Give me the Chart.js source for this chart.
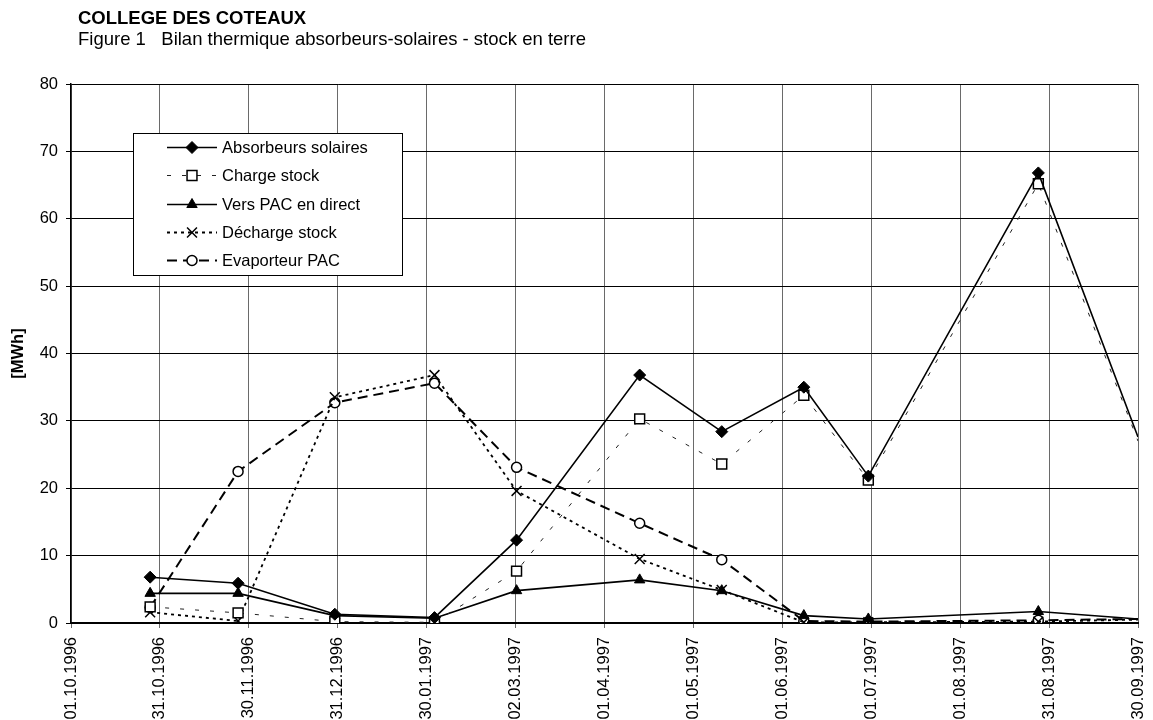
<!DOCTYPE html>
<html>
<head>
<meta charset="utf-8">
<title>Bilan thermique absorbeurs-solaires - stock en terre</title>
<script src="https://cdn.jsdelivr.net/npm/chart.js@4/dist/chart.umd.min.js"></script>
<style>
  html, body { margin: 0; padding: 0; background: #fff; overflow: hidden; }
  canvas { display: block; }
</style>
</head>
<body>
<canvas id="chart" width="1153" height="720"></canvas>
<script>
const FONT = "'Liberation Sans', Arial, Helvetica, sans-serif";

// Measurement dates (dd.mm.yyyy)
const pointDates = ['28.10.1996', '27.11.1996', '30.12.1996', '02.02.1997', '02.03.1997', '13.04.1997',
                    '11.05.1997', '08.06.1997', '30.06.1997', '27.08.1997', '30.09.1997'];

// Energies per period [MWh]
const absorbeurs    = [6.8, 5.9, 1.3, 0.8, 12.3, 36.8, 28.4, 35.0, 21.8, 66.8, 27.6];
const chargeStock   = [2.4, 1.5, 0.2, 0.1, 7.7, 30.3, 23.6, 33.8, 21.2, 65.2, 27.0];
const versPac       = [4.4, 4.4, 1.1, 0.7, 4.8, 6.4, 4.8, 1.1, 0.6, 1.7, 0.6];
const dechargeStock = [1.6, 0.3, 33.5, 36.8, 19.6, 9.5, 4.9, 0.1, 0.1, 0.2, 0.5];
const evaporteur    = [2.3, 22.5, 32.7, 35.6, 23.1, 14.8, 9.4, 0.3, 0.2, 0.4, 0.6];

// Axis labels
const tickLabels = ['01.10.1996', '31.10.1996', '30.11.1996', '31.12.1996', '30.01.1997', '02.03.1997',
                    '01.04.1997', '01.05.1997', '01.06.1997', '01.07.1997', '01.08.1997', '31.08.1997', '30.09.1997'];
const yMin = 0, yMax = 80, yStep = 10;

const titleText = 'COLLEGE DES COTEAUX';
const subtitleText = 'Figure 1   Bilan thermique absorbeurs-solaires - stock en terre';
const yTitle = '[MWh]';

function dayNumber(s) {
  const [d, m, y] = s.split('.').map(Number);
  return Date.UTC(y, m - 1, d) / 86400000;
}
const day0 = dayNumber(tickLabels[0]);
const span = dayNumber(tickLabels[tickLabels.length - 1]) - day0;
const tickStep = span / (tickLabels.length - 1);
const xs = pointDates.map(d => dayNumber(d) - day0);
const series = values => values.map((v, i) => ({ x: xs[i], y: v }));
// the final point sits on the frame edge; its marker is not drawn
const radiusExceptLast = r => ctx => (ctx.dataIndex === xs.length - 1 ? 0 : r);

const datasets = [
  {
    label: 'Absorbeurs solaires', data: series(absorbeurs),
    borderColor: '#000', borderWidth: 1.6,
    pointStyle: 'rectRot', pointRadius: radiusExceptLast(6),
    pointBackgroundColor: '#000', pointBorderColor: '#000', pointBorderWidth: 1
  },
  {
    label: 'Charge stock', data: series(chargeStock),
    borderColor: '#222', borderWidth: 1, borderDash: [4, 11],
    pointStyle: 'rect', pointRadius: radiusExceptLast(7),
    pointBackgroundColor: '#fff', pointBorderColor: '#000', pointBorderWidth: 1.5
  },
  {
    label: 'Vers PAC en direct', data: series(versPac),
    borderColor: '#000', borderWidth: 1.6,
    pointStyle: 'triangle', pointRadius: radiusExceptLast(6),
    pointBackgroundColor: '#000', pointBorderColor: '#000', pointBorderWidth: 1
  },
  {
    label: 'Décharge stock', data: series(dechargeStock),
    borderColor: '#000', borderWidth: 1.8, borderDash: [3, 4],
    pointStyle: 'crossRot', pointRadius: radiusExceptLast(7),
    pointBackgroundColor: '#000', pointBorderColor: '#000', pointBorderWidth: 1.5
  },
  {
    label: 'Evaporteur PAC', data: series(evaporteur),
    borderColor: '#000', borderWidth: 2, borderDash: [10, 6],
    pointStyle: 'circle', pointRadius: radiusExceptLast(5),
    pointBackgroundColor: '#fff', pointBorderColor: '#000', pointBorderWidth: 1.5
  }
];
datasets.forEach(ds => { ds.tension = 0; ds.fill = false; });

// Page background, heading lines and the boxed legend
const decorations = {
  id: 'decorations',
  beforeDraw(chart) {
    const ctx = chart.ctx;
    ctx.save();
    ctx.fillStyle = '#fff';
    ctx.fillRect(0, 0, chart.width, chart.height);
    ctx.restore();
  },
  afterDraw(chart) {
    const ctx = chart.ctx;
    ctx.save();
    ctx.fillStyle = '#000';
    ctx.textAlign = 'left';
    ctx.textBaseline = 'alphabetic';
    ctx.font = 'bold 18.5px ' + FONT;
    ctx.fillText(titleText, 78, 24);
    ctx.font = '18.5px ' + FONT;
    ctx.fillText(subtitleText, 78, 45);

    // legend box
    const bx = 133, by = 133, bw = 269, bh = 142;
    ctx.fillStyle = '#fff';
    ctx.fillRect(bx, by, bw, bh);
    ctx.strokeStyle = '#000';
    ctx.lineWidth = 1;
    ctx.strokeRect(bx + 0.5, by + 0.5, bw, bh);

    const rowY0 = 147, rowGap = 28.3;
    const lineX0 = 167, lineX1 = 217, textX = 222;
    chart.data.datasets.forEach((ds, i) => {
      const y = Math.round(rowY0 + i * rowGap) + 0.5;
      ctx.save();
      ctx.strokeStyle = ds.borderColor;
      ctx.lineWidth = ds.borderWidth;
      ctx.setLineDash(ds.borderDash || []);
      ctx.beginPath();
      ctx.moveTo(lineX0, y);
      ctx.lineTo(lineX1, y);
      ctx.stroke();
      ctx.setLineDash([]);
      ctx.fillStyle = ds.pointBackgroundColor;
      ctx.strokeStyle = ds.pointBorderColor;
      ctx.lineWidth = ds.pointBorderWidth;
      const r = ds.pointRadius({ dataIndex: 0 });
      Chart.helpers.drawPoint(ctx, { pointStyle: ds.pointStyle, radius: r, borderWidth: ds.pointBorderWidth, rotation: 0 },
        (lineX0 + lineX1) / 2, y);
      ctx.restore();
      ctx.fillStyle = '#000';
      ctx.font = '16.5px ' + FONT;
      ctx.textBaseline = 'middle';
      ctx.fillText(ds.label, textX, y + 1);
    });
    ctx.restore();
  }
};

new Chart(document.getElementById('chart'), {
  type: 'line',
  data: { datasets },
  options: {
    responsive: false,
    animation: false,
    devicePixelRatio: 1,
    events: [],
    layout: { padding: { top: 84, right: 15, left: 0, bottom: 0 } },
    plugins: { legend: { display: false }, tooltip: { enabled: false }, title: { display: false } },
    scales: {
      x: {
        type: 'linear',
        min: 0,
        max: span,
        afterBuildTicks(scale) {
          scale.ticks = tickLabels.map((_, i) => ({ value: i * tickStep }));
        },
        afterFit(scale) {
          scale.height = 97;
          scale.paddingLeft = 0;
          scale.paddingRight = 0;
        },
        ticks: {
          autoSkip: false,
          minRotation: 90,
          maxRotation: 90,
          padding: 9,
          color: '#000',
          font: { family: FONT, size: 16.5 },
          callback: (value, index) => tickLabels[index]
        },
        grid: { color: '#6a6a6a', lineWidth: 1, tickLength: 5, tickColor: '#6a6a6a' },
        border: { display: true, color: '#000', width: 2 }
      },
      y: {
        min: yMin,
        max: yMax,
        afterFit(scale) {
          scale.width = 71;
          scale.paddingTop = 0;
          scale.paddingBottom = 0;
        },
        ticks: {
          stepSize: yStep,
          padding: 8,
          color: '#000',
          font: { family: FONT, size: 16.5 }
        },
        grid: { color: '#000', lineWidth: 1, tickLength: 5, tickColor: '#000' },
        border: { display: true, color: '#000', width: 1.5 },
        title: {
          display: true,
          text: yTitle,
          color: '#000',
          font: { family: FONT, size: 16.5, weight: 'bold' },
          padding: { top: 9, bottom: 0 }
        }
      }
    }
  },
  plugins: [decorations]
});
</script>
</body>
</html>
